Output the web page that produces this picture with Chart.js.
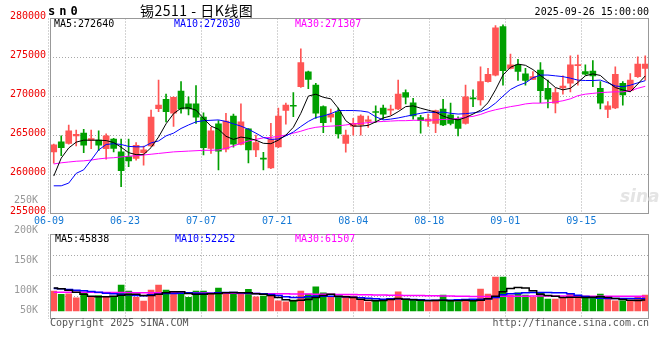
<!DOCTYPE html>
<html>
<head>
<meta charset="utf-8">
<script src="https://cdn.jsdelivr.net/npm/chart.js@4.4.1/dist/chart.umd.min.js"></script>
<style>
  body { margin: 0; background: #fff; }
  #wrap { position: relative; width: 660px; height: 360px; overflow: hidden; }
  canvas { position: absolute; left: 0; top: 0; }
  .t { position: absolute; font: 10px 'DejaVu Sans Mono', monospace; line-height: 12px; white-space: nowrap; }
</style>
</head>
<body>
<div id="wrap">
  <canvas id="price" width="660" height="360"></canvas>
  <canvas id="vol" width="660" height="360"></canvas>

  <div class="t" style="left:620px;top:186px;font:italic bold 17px 'DejaVu Sans';color:#e4e4e4;">sina</div>

  <div class="t" style="left:48px;top:4px;font:bold 12px 'DejaVu Sans Mono';letter-spacing:4px;">sn0</div>
  <div class="t" style="left:140px;top:2px;font:14px 'Noto Sans CJK SC';line-height:17px;letter-spacing:0.5px;">锡2511 - 日K线图</div>
  <div class="t" style="right:11px;top:6px;">2025-09-26 15:00:00</div>

  <div class="t" style="left:54px;top:18px;color:#000;">MA5:272640</div>
  <div class="t" style="left:174px;top:18px;color:#0000ff;">MA10:272030</div>
  <div class="t" style="left:295px;top:18px;color:#ff00ff;">MA30:271307</div>

  <div class="t" style="left:55px;top:233px;color:#000;">MA5:45838</div>
  <div class="t" style="left:175px;top:233px;color:#0000ff;">MA10:52252</div>
  <div class="t" style="left:295px;top:233px;color:#ff00ff;">MA30:61507</div>

  <div class="t" style="left:50px;top:317px;color:#555;">Copyright 2025 SINA.COM</div>
  <div class="t" style="right:11px;top:317px;color:#555;">http://finance.sina.com.cn</div>
</div>

<script>
// axis labels
const tickDates = ['06-09', '06-23', '07-07', '07-21', '08-04', '08-18', '09-01', '09-15'];
const priceTicks = [255000, 260000, 265000, 270000, 275000, 280000];
const volTicks = [50000, 100000, 150000, 200000, 250000];
const volTickLabels = ['50K', '100K', '150K', '200K', '250K'];

// daily candles, 2025-06-09 .. 2025-09-26
const open = [262900,264200,264000,264950,265300,264400,264400,263300,264550,262900,
  262300,262050,262800,263650,268450,269650,267850,270700,269050,269050,
  267350,263350,266500,263250,267500,263850,265850,263150,262100,260850,
  263550,268200,268850,271250,273150,271450,268700,267350,268050,264000,
  266200,266350,266800,268050,268500,268250,268400,270500,269200,267300,
  266850,266550,268400,267650,267100,266550,269750,269550,271900,272750,
  278950,273600,274050,272900,272200,273400,271050,269150,271100,271700,
  273950,273200,273250,271050,268350,268550,271700,270750,272550,273600];
const high = [263900,264950,266350,265700,265800,265700,265600,265200,264650,264550,
  264550,264100,263650,268250,272100,270300,269950,271900,269950,271400,
  267900,266050,266900,267850,267750,269050,265900,265050,262850,266550,
  268500,269150,270500,276100,273250,271700,268800,268400,268500,265700,
  267200,267650,267500,268800,268900,268900,272100,270850,269750,267600,
  267750,268250,269650,269150,267400,271450,270850,273800,273600,279100,
  279200,275450,274750,273600,273200,274350,272100,271050,272650,275200,
  275300,274050,274600,271900,269350,273800,271900,272950,275100,275200];
const low = [261450,262400,263900,263650,262800,263300,263050,261950,262900,258450,
  261000,261850,261200,263600,268050,266750,266150,267850,267650,266550,
  262500,262700,260600,262900,263500,263800,261500,262300,260600,260750,
  263450,266450,267400,271150,271000,267200,265350,266750,264650,262850,
  265050,265050,266050,266650,267100,267650,268300,269050,267100,265300,
  266150,265350,266250,266350,264950,266450,268700,268900,271850,272650,
  271450,273550,272050,271450,272150,269200,268550,267900,270300,270600,
  271450,272750,271250,268400,267300,268450,268900,270650,272450,272100];
const close = [263800,263450,265600,265150,263750,264600,263750,264950,263350,260500,
  261750,263750,263150,267350,268900,268050,269900,268400,268400,267350,
  263450,265600,263000,266850,263900,266750,263150,264100,261950,264550,
  267500,268900,268750,274350,272200,267850,266650,267750,265200,265050,
  266550,267500,267000,267950,267750,268400,270300,269900,267500,266900,
  267100,268200,266350,266550,265900,269950,269700,271900,272850,278800,
  273300,274050,273200,272050,272550,270750,269650,270500,271350,274050,
  274100,272850,272650,269150,268800,272850,270200,272100,274150,274150];

// price moving averages as drawn
const ma5 = [259800,262100,263400,264150,264400,264400,264400,264350,264100,263500,
  262800,262550,262550,263450,264800,266500,267800,268500,268550,268250,
  267200,266200,265800,264900,264500,264800,264650,264400,264000,263950,
  264400,265050,266050,267850,270050,270300,269900,269700,268500,266900,
  266200,266200,266300,266750,267250,267500,268050,268700,268800,268500,
  268250,268000,267500,267150,267000,267300,267750,268250,269200,270850,
  272750,273750,274150,274000,273450,272700,272000,271150,270850,271050,
  271800,272650,272900,272700,271850,271150,270850,270600,271600,272640];
const ma10 = [258550,258550,258900,260150,260600,261850,263150,263850,263950,263850,
  263600,263550,263550,264050,264300,264950,265300,265900,266350,266750,
  266900,266950,267000,266800,266500,266200,265800,265300,264750,264500,
  264550,264950,265450,266150,266800,267300,267500,267800,268200,268200,
  268200,268150,268000,267400,267000,267100,267250,267450,267650,267850,
  268000,267950,268000,267850,267750,267800,267900,268050,268450,269150,
  270050,270900,271400,271750,272400,272750,272750,272650,272550,272350,
  272100,272050,272050,272100,271750,271350,271250,271450,271750,272030];
const ma30 = [261350,261500,261600,261700,261750,261850,262000,262100,262150,262250,
  262350,262400,262500,262600,262700,262800,262900,262950,263000,263050,
  263100,263100,263150,263350,263650,264000,264300,264500,264700,264750,
  264900,265050,265300,265550,265850,266050,266150,266200,266250,266350,
  266500,266550,266650,266750,266800,266850,266900,266900,266950,266950,
  266950,267000,267050,267100,267200,267350,267450,267700,268050,268300,
  268500,268700,268850,269050,269150,269150,269200,269300,269450,269700,
  270100,270300,270400,270500,270550,270600,270600,270750,271050,271307];

// volume and its moving averages
const volume = [82700,68900,71400,54600,75600,60500,63800,60500,58800,107900,
  82700,56700,40700,86900,107900,86900,75600,71000,56700,82700,
  82700,74300,95300,75600,71400,76400,89900,58800,61700,65900,
  42000,37800,44900,82700,70100,100800,75600,57500,58800,61700,
  61700,44900,37800,44900,44900,52100,79800,47900,47900,47900,
  37800,44900,65900,44900,37800,47900,44900,91100,70100,141500,
  141500,65900,75600,65900,56300,75600,49100,49100,56300,70100,
  58800,61700,56300,70100,56300,42000,42000,42000,56300,65900];
const volMa5 = [95300,92400,86900,78500,70100,61700,58800,58800,61700,65900,
  68900,70100,64700,64700,70100,75600,79800,79800,73100,70100,
  70100,71400,73100,75600,77300,75600,75600,71400,70100,64700,
  56300,46200,42000,44900,47900,56300,64700,70100,61700,58800,
  56300,49100,44900,42000,43700,47900,52100,49100,46200,44900,
  42000,43700,44900,42000,42000,44900,42000,44900,50400,61700,
  79800,94100,98300,95300,84000,70100,64700,61700,56300,57500,
  57500,56300,57500,58800,56300,52100,47900,44900,43000,45838];
const volMa10 = [94100,92400,89900,86900,84000,81500,78500,74300,71400,70100,
  67200,64700,63000,67200,70100,73100,73100,74300,75600,74300,
  73100,74300,75600,77300,77300,75600,74300,73100,71400,68900,
  64700,58800,56300,56300,58800,61700,61700,61700,60500,58800,
  57500,54600,53300,50400,49100,50400,50400,49100,47900,46200,
  44900,44900,44900,44900,46200,47900,49100,49100,50400,56300,
  67200,71400,73100,75600,77300,77300,77300,76400,75600,71400,
  65900,60500,56300,53300,52100,51500,51500,52000,52000,52252];
const volMa30 = [78500,78300,78100,77900,77700,77500,77300,77100,76900,76800,
  76600,76400,76200,76000,75800,75600,75400,75200,75000,74800,
  74600,74300,74000,73700,73400,73100,72800,72500,72200,71900,
  71600,71300,71000,70700,70400,70100,69800,69400,69000,68600,
  68200,67800,67400,66900,66400,65900,65400,64900,64400,63900,
  63400,62900,62400,61900,61400,60900,60500,60200,60100,60300,
  60800,61200,61500,61700,61800,61900,61900,61800,61800,61700,
  61700,61600,61600,61500,61500,61500,61500,61500,61500,61507];

const UP = '#ff5555';
const DOWN = '#00a000';
const GRID = '#a8a8a8';

Chart.defaults.font.family = "'DejaVu Sans Mono', monospace";
Chart.defaults.font.size = 10;

const idx = close.map((_, i) => i);
const colors = close.map((c, i) => (c >= open[i] ? UP : DOWN));

// sina's date grid drifts slightly against the candle slots
const gridOffset = -0.634;
const gridStep = 10.157;

function dateAxis(showLabels) {
  return {
    type: 'linear',
    min: -0.5,
    max: 79.5,
    offset: false,
    afterBuildTicks: s => { s.ticks = tickDates.map((d, k) => ({ value: gridOffset + gridStep * k })); },
    afterFit: s => { s.height = showLabels ? 20 : 0; },
    grid: { color: GRID, drawTicks: false, offset: false },
    border: { display: false, dash: [1, 2] },
    ticks: {
      display: showLabels, autoSkip: false, maxRotation: 0, minRotation: 0,
      padding: 2, color: '#1478d4',
      callback: (v, i) => tickDates[i]
    }
  };
}

const frame = {
  id: 'frame',
  afterDraw(chart) {
    const a = chart.chartArea;
    const ctx = chart.ctx;
    ctx.save();
    ctx.strokeStyle = '#999';
    ctx.lineWidth = 1;
    ctx.strokeRect(Math.floor(a.left) + 0.5, Math.floor(a.top) + 0.5,
      Math.round(a.right - a.left) - 1, Math.round(a.bottom - a.top));
    ctx.restore();
  }
};

function line(values, color, width, extra) {
  return Object.assign({
    type: 'line',
    data: idx.map(i => ({ x: i, y: values[i] })),
    borderColor: color,
    borderWidth: width,
    pointRadius: 0,
    tension: 0,
    order: 0
  }, extra || {});
}

new Chart(document.getElementById('price'), {
  type: 'bar',
  data: {
    datasets: [
      line(ma5, '#000000', 1),
      line(ma10, '#0000ff', 1),
      line(ma30, '#ff00ff', 1),
      {
        data: idx.map(i => ({ x: i, y: [open[i], close[i]] })),
        backgroundColor: colors,
        barThickness: 6,
        minBarLength: 1,
        grouped: false,
        order: 1
      },
      {
        data: idx.map(i => ({ x: i, y: [low[i], high[i]] })),
        backgroundColor: colors,
        barThickness: 1,
        grouped: false,
        order: 2
      }
    ]
  },
  options: {
    responsive: false,
    animation: false,
    events: [],
    layout: { padding: { left: 0, right: 11, top: 18.5, bottom: 126.5 } },
    plugins: { legend: { display: false }, tooltip: { enabled: false } },
    scales: {
      x: dateAxis(true),
      y: {
        type: 'linear',
        min: 255000,
        max: 280000,
        beginAtZero: false,
        afterBuildTicks: s => { s.ticks = priceTicks.map(v => ({ value: v })); },
        afterFit: s => { s.width = 50; },
        grid: { color: GRID, drawTicks: false },
        border: { display: false, dash: [1, 2] },
        ticks: { color: '#ee0000', padding: 4, labelOffset: -2, autoSkip: false, callback: v => String(v) }
      }
    }
  },
  plugins: [frame]
});

const volMin = -32000;
const volMax = 320000;
const volGridStep = 86000;

new Chart(document.getElementById('vol'), {
  type: 'bar',
  data: {
    datasets: [
      line(volMa5, '#000000', 1.5, { stepped: 'middle', yAxisID: 'yv' }),
      line(volMa10, '#0000ff', 1.5, { stepped: 'middle', yAxisID: 'yv' }),
      line(volMa30, '#ff00ff', 1.5, { stepped: 'middle', yAxisID: 'yv' }),
      {
        data: idx.map(i => ({ x: i, y: volume[i] })),
        backgroundColor: colors,
        barThickness: 6,
        grouped: false,
        yAxisID: 'yv',
        order: 1
      }
    ]
  },
  options: {
    responsive: false,
    animation: false,
    events: [],
    layout: { padding: { left: 0, right: 11, top: 234.5, bottom: 41.5 } },
    plugins: { legend: { display: false }, tooltip: { enabled: false } },
    scales: {
      x: dateAxis(false),
      yv: {
        type: 'linear',
        position: 'left',
        min: volMin,
        max: volMax,
        beginAtZero: false,
        afterBuildTicks: s => { s.ticks = [1, 2, 3].map(k => ({ value: volMax - volGridStep * k })); },
        afterFit: s => { s.width = 0; },
        grid: { color: GRID, drawTicks: false },
        border: { display: false, dash: [1, 2] },
        ticks: { display: false }
      },
      yl: {
        type: 'linear',
        position: 'left',
        min: 53700,
        max: 193700,
        beginAtZero: false,
        afterBuildTicks: s => { s.ticks = volTicks.map(v => ({ value: Math.max(v, s.min + 14000) })); },
        afterFit: s => { s.width = 50; },
        grid: { display: false },
        border: { display: false },
        ticks: { color: '#999999', padding: 4, autoSkip: false, callback: (v, i) => volTickLabels[i] }
      }
    }
  },
  plugins: [frame]
});
</script>
</body>
</html>
